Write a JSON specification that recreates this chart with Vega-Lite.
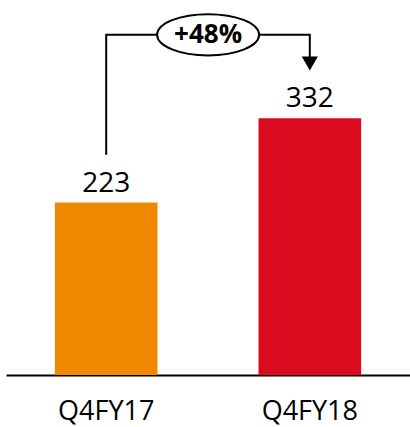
{
  "$schema": "https://vega.github.io/schema/vega-lite/v6.json",
  "width": 404,
  "height": 375,
  "autosize": {"type": "none"},
  "padding": {"left": 6, "top": 0, "right": 0, "bottom": 52},
  "background": "white",
  "config": {"view": {"stroke": null}, "font": "Open Sans"},
  "datasets": {
    "bars": [
      {"period": "Q4FY17", "value": 223},
      {"period": "Q4FY18", "value": 332}
    ],
    "connector": [
      {"period": "Q4FY17", "level": 285, "step": 1},
      {"period": "Q4FY17", "level": 440, "step": 2},
      {"period": "Q4FY18", "level": 440, "step": 3},
      {"period": "Q4FY18", "level": 405, "step": 4}
    ],
    "arrow": [{"period": "Q4FY18", "level": 403}],
    "badge": [{"period": "Q4FY17", "level": 440, "label": "+48%"}]
  },
  "layer": [
    {
      "data": {"name": "bars"},
      "mark": {"type": "bar"},
      "encoding": {
        "x": {
          "field": "period", "type": "nominal", "sort": null,
          "scale": {"paddingInner": 0.496, "paddingOuter": 0.24},
          "axis": {
            "title": null, "labelAngle": 0, "ticks": false, "domainColor": "black",
            "domainWidth": 2, "labelFontSize": 27, "labelColor": "black",
            "labelPadding": 23, "labelFont": "Open Sans"
          }
        },
        "y": {
          "field": "value", "type": "quantitative",
          "scale": {"domain": [0, 485], "nice": false, "zero": true}, "axis": null
        },
        "color": {
          "field": "period", "type": "nominal", "legend": null,
          "scale": {"domain": ["Q4FY17", "Q4FY18"], "range": ["#F08800", "#DC0A1E"]}
        }
      }
    },
    {
      "data": {"name": "bars"},
      "mark": {"type": "text", "baseline": "bottom", "dy": -5, "fontSize": 28, "color": "black", "font": "Open Sans"},
      "encoding": {
        "x": {"field": "period", "type": "nominal", "sort": null},
        "y": {"field": "value", "type": "quantitative"},
        "text": {"field": "value", "type": "quantitative"}
      }
    },
    {
      "data": {"name": "connector"},
      "mark": {"type": "line", "color": "black", "strokeWidth": 2},
      "encoding": {
        "x": {"field": "period", "type": "nominal", "sort": null},
        "y": {"field": "level", "type": "quantitative"},
        "order": {"field": "step"}
      }
    },
    {
      "data": {"name": "arrow"},
      "mark": {"type": "point", "shape": "triangle-down", "filled": true, "color": "black", "size": 260, "opacity": 1},
      "encoding": {
        "x": {"field": "period", "type": "nominal", "sort": null},
        "y": {"field": "level", "type": "quantitative"}
      }
    },
    {
      "data": {"name": "badge"},
      "mark": {
        "type": "point",
        "shape": "M -1 0 C -1 -0.2237 -0.5523 -0.405 0 -0.405 C 0.5523 -0.405 1 -0.2237 1 0 C 1 0.2237 0.5523 0.405 0 0.405 C -0.5523 0.405 -1 0.2237 -1 0 Z",
        "size": 10404, "filled": true, "fill": "white", "stroke": "black", "strokeWidth": 2, "opacity": 1
      },
      "encoding": {
        "x": {"field": "period", "type": "nominal", "sort": null, "bandPosition": 1.493},
        "y": {"field": "level", "type": "quantitative"}
      }
    },
    {
      "data": {"name": "badge"},
      "mark": {"type": "text", "fontSize": 26, "fontWeight": "bold", "color": "black", "font": "Open Sans", "baseline": "middle"},
      "encoding": {
        "x": {"field": "period", "type": "nominal", "sort": null, "bandPosition": 1.493},
        "y": {"field": "level", "type": "quantitative"},
        "text": {"field": "label"}
      }
    }
  ]
}
